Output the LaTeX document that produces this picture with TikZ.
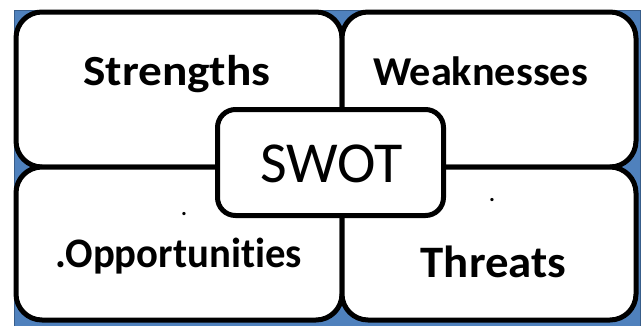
\documentclass[tikz,border=0pt]{standalone}
\usepackage{fontspec}
\setmainfont[Ligatures=NoCommon]{Carlito}
\usepackage{graphicx}
\usepackage{tikz}
\usetikzlibrary{positioning}
\definecolor{ThemeBlue}{RGB}{79, 129, 189}
\definecolor{EdgeBlue}{RGB}{56, 93, 138}

\tikzset{
  quad/.style={draw=black, fill=white, line width=5pt, rounded corners=26pt, inner sep=0pt},
  hub/.style={draw=black, fill=white, line width=5pt, rounded corners=18pt, inner sep=0pt},
  qlabel/.style={anchor=base, inner sep=0pt, font=\bfseries\fontsize{43}{46}\selectfont},
  speck/.style={anchor=base, inner sep=0pt, font=\bfseries\fontsize{22}{22}\selectfont}
}

\begin{document}
\begin{tikzpicture}[x=1pt, y=-1pt]
    \useasboundingbox (0,0) rectangle (644,325);

    % Background
    \draw[fill=ThemeBlue, draw=EdgeBlue, line width=1pt] (14,10) rectangle (640,340);

    % Quadrants
    \node[quad, minimum width=326pt, minimum height=155pt] (s) at (179,89.5) {};
    \node[quad, minimum width=294pt, minimum height=155pt] (w) at (489,89.5) {};
    \node[quad, minimum width=326pt, minimum height=153pt] (o) at (179,243.5) {};
    \node[quad, minimum width=294pt, minimum height=153pt] (t) at (489,243.5) {};

    % Labels
    \node[qlabel] (sl) at (177,85) {\scalebox{1.1}[1]{Strengths}};
    \node[qlabel, font=\bfseries\fontsize{41}{44}\selectfont] (wl) at (480.5,85) {\scalebox{1.03}[1]{Weaknesses}};
    \node[qlabel, font=\bfseries\fontsize{42}{45}\selectfont] (ol) at (178.5,267) {\scalebox{0.97}[1]{.Opportunities}};
    \node[qlabel, font=\bfseries\fontsize{45}{48}\selectfont] (tl) at (493.5,277) {\scalebox{1.04}[1]{Threats}};

    % Stray dots
    \node[speck] (d1) at (184,215) {.};
    \node[speck] (d2) at (492,201) {.};

    % Centre
    \node[hub, minimum width=226pt, minimum height=106pt] (swot) at (330.5,162.5) {};
    \node[anchor=base, inner sep=0pt, font=\fontsize{58}{60}\selectfont] (swotl) at (331.5,182) {SWOT};
  \end{tikzpicture}
\end{document}
